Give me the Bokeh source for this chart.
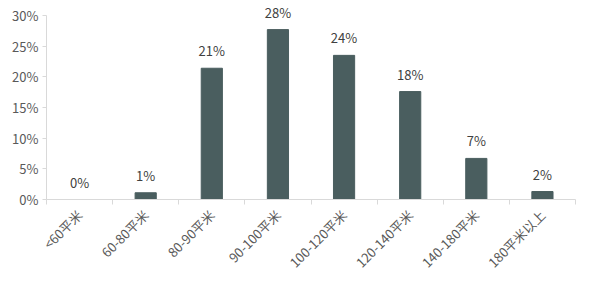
import math
from bokeh.plotting import figure
from bokeh.models import ColumnDataSource, FixedTicker, Range1d, NumeralTickFormatter
from bokeh.core.properties import value
from bokeh.embed import file_html
from bokeh.resources import INLINE

categories = ["<60平米", "60-80平米", "80-90平米", "90-100平米", "100-120平米",
              "120-140平米", "140-180平米", "180平米以上"]
shares = [0.0, 0.011, 0.214, 0.277, 0.235, 0.176, 0.067, 0.013]
label_texts = ["0%", "1%", "21%", "28%", "24%", "18%", "7%", "2%"]
y_ticks = [0, 0.05, 0.10, 0.15, 0.20, 0.25, 0.30]

FONT = "Noto Sans CJK SC"
n = len(categories)
xs = [i + 0.5 for i in range(n)]
y_max = 0.30
y_top = y_max * (1 + 15 / 184)

src = ColumnDataSource(dict(x=xs, top=shares, label=label_texts))

p = figure(width=590, height=282, output_backend="svg", toolbar_location=None,
           x_range=Range1d(0, n), y_range=Range1d(0, y_top),
           min_border_left=46, min_border_right=15, min_border_top=0, min_border_bottom=83)
p.outline_line_color = None
p.xgrid.visible = False
p.ygrid.visible = False

p.vbar(x="x", top="top", width=0.32, bottom=0, source=src, color="#4a5e5f")
p.text(x="x", y="top", text="label", source=src, text_align="center",
       text_baseline="bottom", y_offset=-8, text_font=value(FONT),
       text_font_size="13px", text_color="#404040")

xa = p.xaxis[0]
xa.ticker = FixedTicker(ticks=xs, minor_ticks=list(range(n + 1)))
xa.major_label_overrides = {x: c for x, c in zip(xs, categories)}
xa.major_label_orientation = math.pi / 4
xa.major_tick_line_color = None
xa.minor_tick_line_color = "#d9d9d9"
xa.minor_tick_in = 0
xa.minor_tick_out = 5
xa.axis_line_color = "#d9d9d9"
xa.major_label_text_font = FONT
xa.major_label_text_font_size = "13px"
xa.major_label_text_color = "#595959"
xa.major_label_standoff = 7

ya = p.yaxis[0]
ya.ticker = FixedTicker(ticks=y_ticks)
ya.bounds = (0, y_max)
ya.formatter = NumeralTickFormatter(format="0%")
ya.axis_line_color = "#d9d9d9"
ya.major_tick_line_color = "#d9d9d9"
ya.major_tick_in = 0
ya.major_tick_out = 4
ya.minor_tick_line_color = None
ya.major_label_text_font = FONT
ya.major_label_text_font_size = "13px"
ya.major_label_text_color = "#595959"
ya.major_label_standoff = 4

open("out.html", "w").write(file_html(p, INLINE))
